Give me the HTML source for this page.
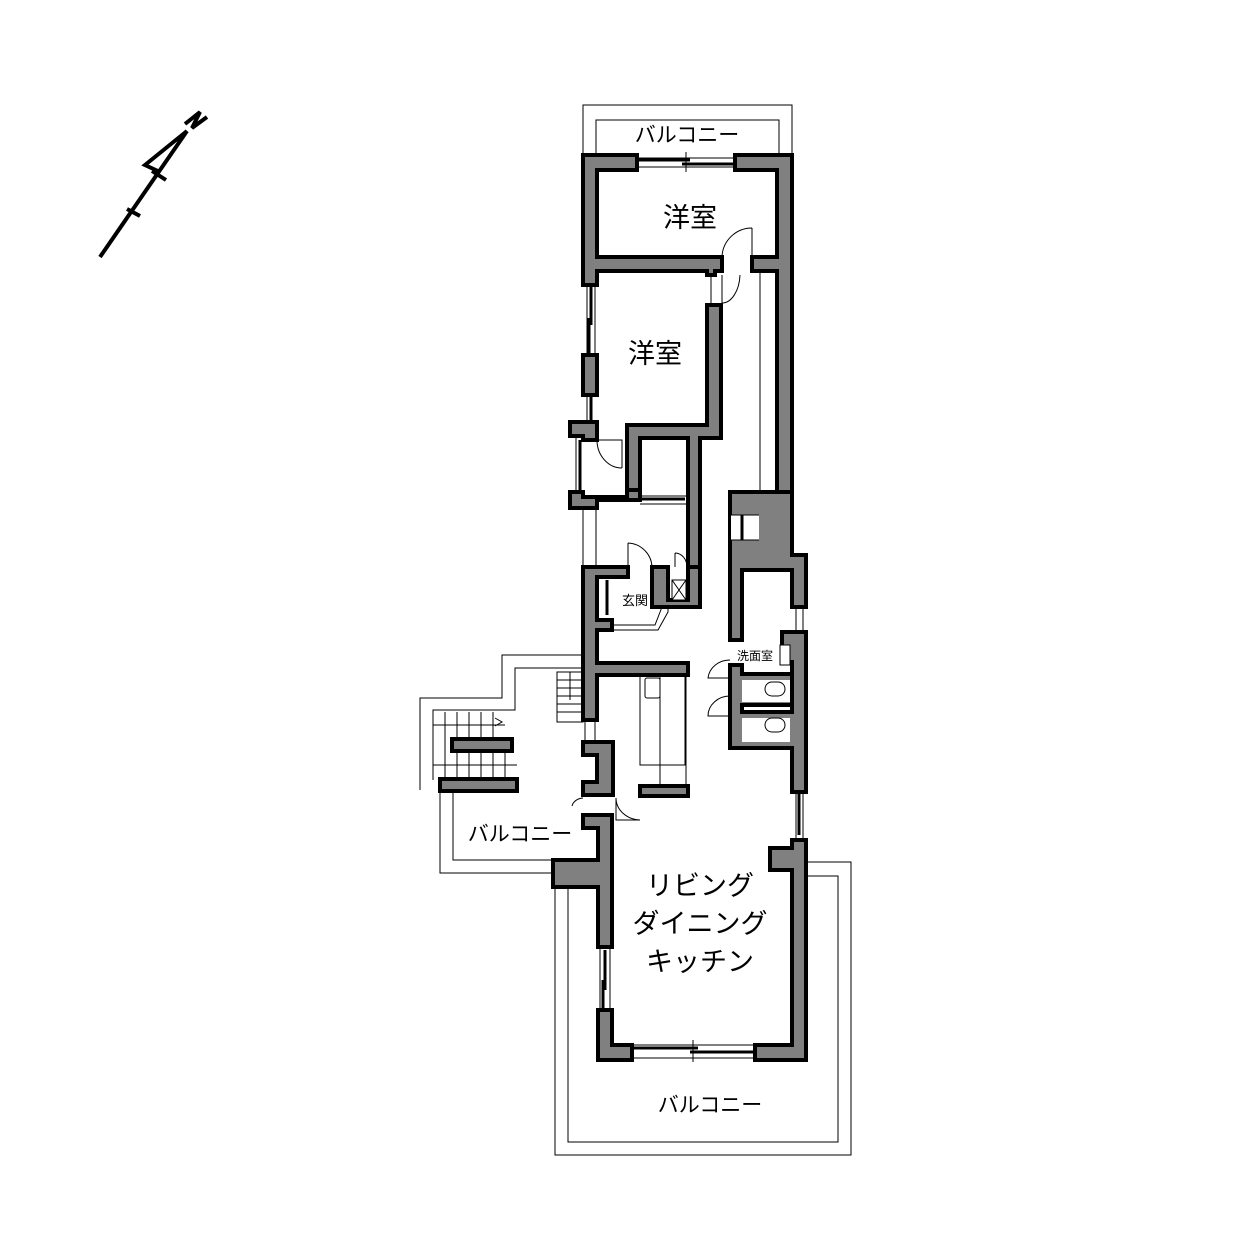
<!DOCTYPE html>
<html><head><meta charset="utf-8"><style>
html,body{margin:0;padding:0;background:#fff;width:1252px;height:1252px;overflow:hidden}
svg{display:block}
.w{fill:#808080;stroke:#000;stroke-width:4;stroke-linejoin:miter}
.t{fill:none;stroke:#000;stroke-width:1}
.b{fill:none;stroke:#000;stroke-width:3}
text{font-family:"Liberation Sans","Noto Sans CJK JP",sans-serif;fill:#000}
</style></head><body>
<svg width="1252" height="1252" viewBox="0 0 1252 1252">
<!-- compass -->
<g stroke="#000" stroke-width="4" fill="none" stroke-linecap="butt">
<line x1="100" y1="257" x2="187" y2="131"/>
<polyline points="187,131 145,165 160,172"/>
<line x1="152" y1="171" x2="166" y2="180"/>
<line x1="127" y1="209" x2="140" y2="216"/>
<polyline points="185,124 200,112 192,128 207,117"/>
</g>

<!-- top balcony -->
<polyline class="t" points="583,155 583,105 792,105 792,155"/>
<polyline class="t" points="596,155 596,120 779,120 779,155"/>
<text x="687" y="142" font-size="21" text-anchor="middle">バルコニー</text>
<!-- top window -->
<line class="t" x1="637" y1="158" x2="735" y2="158"/>
<line class="t" x1="637" y1="167" x2="735" y2="167"/>
<line class="b" x1="637" y1="160" x2="690" y2="160"/>
<line class="b" x1="682" y1="164" x2="735" y2="164"/>
<line class="t" x1="686" y1="152" x2="686" y2="172"/>

<!-- top room walls -->
<polygon class="w" points="583,155 637,155 637,170 597,170 597,257 722,257 722,271 715,271 715,275 707,275 707,271 597,271 597,285 583,285"/>
<polygon class="w" points="735,155 792,155 792,492 777,492 777,271 752,271 752,257 777,257 777,170 735,170"/>
<text x="690" y="227" font-size="27" text-anchor="middle">洋室</text>
<!-- doors -->
<path class="t" d="M752,228 L752,257 M752,228 A30,30 0 0 0 722,257"/>
<path class="t" d="M722,275 L722,305 M740,275 A18,30 0 0 1 722,303"/>
<line class="t" x1="711" y1="275" x2="711" y2="305"/>
<line class="t" x1="760" y1="271" x2="760" y2="492"/>

<!-- second room -->
<polygon class="w" points="707,305 721,305 721,438 700,438 700,600 688,600 688,438 640,438 640,497 627,497 627,425 707,425"/>
<text x="655" y="363" font-size="27" text-anchor="middle">洋室</text>
<line class="t" x1="587" y1="285" x2="587" y2="355"/>
<line class="t" x1="595" y1="285" x2="595" y2="355"/>
<line class="b" x1="591" y1="285" x2="591" y2="325"/>
<line class="b" x1="589" y1="318" x2="589" y2="355"/>
<rect class="w" x="583" y="355" width="14" height="40"/>
<line class="t" x1="587" y1="395" x2="587" y2="420"/>
<line class="b" x1="591" y1="395" x2="591" y2="420"/>
<polygon class="w" points="570,422 597,422 597,440 583,440 583,436 570,436"/>
<polygon class="w" points="570,492 583,492 583,497 627,497 627,490 640,490 640,500 597,500 597,508 570,508"/>
<line class="t" x1="576" y1="436" x2="576" y2="492"/>
<line class="b" x1="580" y1="440" x2="580" y2="490"/>
<path class="t" d="M597,440 L622,440 L622,468 M597,440 A25,28 0 0 0 622,468"/>
<line class="t" x1="640" y1="496" x2="688" y2="496"/>
<line class="b" x1="640" y1="499" x2="685" y2="499"/>
<line class="t" x1="640" y1="504" x2="688" y2="504"/>
<line class="t" x1="583" y1="508" x2="583" y2="567"/>
<line class="t" x1="596" y1="508" x2="596" y2="567"/>

<!-- entrance -->
<polygon class="w" points="583,567 628,567 628,577 597,577 597,620 612,620 612,630 597,630 597,663 688,663 688,675 597,675 597,720 583,720"/>
<polygon class="w" points="652,567 668,567 668,600 688,600 688,567 700,567 700,607 652,607 652,567"/>
<rect x="672" y="580" width="14" height="20" fill="#fff" stroke="#000" stroke-width="1"/>
<path class="t" d="M672,580 L686,600 M686,580 L672,600"/>
<path class="t" d="M628,543 L628,567 M628,543 A25,25 0 0 1 652,567"/>
<path class="t" d="M675,553 L675,567 M675,553 A12,14 0 0 1 687,567"/>
<polyline class="t" points="612,630 658,630 668,612 668,607"/>
<polyline class="t" points="612,625 655,625 662,607"/>
<text x="635" y="605" font-size="13" text-anchor="middle">玄関</text>
<line class="b" x1="607" y1="580" x2="607" y2="615"/>

<!-- right service column -->
<polygon class="w" points="730,492 792,492 792,555 806,555 806,607 792,607 792,570 742,570 742,640 730,640"/>
<rect x="731" y="515" width="28" height="25" fill="#fff"/>
<line class="t" x1="731" y1="515" x2="759" y2="515"/><line class="t" x1="731" y1="540" x2="759" y2="540"/>
<line class="b" x1="742" y1="515" x2="742" y2="540"/>
<polygon class="w" points="782,632 806,632 806,792 792,792 792,748 730,748 730,665 742,665 742,674 792,674 792,705 742,705 742,712 792,712 792,662 782,662"/>
<rect x="742" y="680" width="48" height="22" fill="#fff"/>
<rect x="742" y="718" width="48" height="24" fill="#fff"/>
<rect x="780" y="645" width="10" height="20" fill="#fff" stroke="#000" stroke-width="1"/>
<text x="755" y="660" font-size="12" text-anchor="middle">洗面室</text>
<rect x="765" y="682" width="20" height="14" rx="7" class="t"/>
<rect x="765" y="718" width="20" height="14" rx="7" class="t"/>
<path class="t" d="M730,678 L708,678 A22,20 0 0 1 730,660"/>
<path class="t" d="M730,716 L708,716 A22,20 0 0 1 730,696"/>
<line class="t" x1="796" y1="607" x2="796" y2="632"/><line class="t" x1="803" y1="607" x2="803" y2="632"/>
<line class="t" x1="796" y1="792" x2="796" y2="840"/><line class="t" x1="803" y1="792" x2="803" y2="840"/>
<line class="b" x1="799" y1="792" x2="799" y2="835"/>

<!-- bath area -->
<rect class="t" x="640" y="675" width="45" height="90"/>
<rect class="t" x="645" y="678" width="15" height="20" rx="2"/>
<line class="t" x1="660" y1="675" x2="660" y2="787"/>
<line class="t" x1="686" y1="675" x2="686" y2="787"/>
<polygon class="w" points="583,742 613,742 613,795 583,795 583,782 597,782 597,755 583,755"/>
<rect class="w" x="640" y="786" width="48" height="10"/>
<path class="t" d="M616,798 L616,820 L640,820 M616,798 A25,22 0 0 0 640,820"/>
<path class="t" d="M572,806 A12,10 0 0 1 583,798"/>
<line class="t" x1="585" y1="720" x2="585" y2="742"/><line class="t" x1="595" y1="720" x2="595" y2="742"/>

<!-- stairs and left balcony -->
<polyline class="t" points="583,655 502,655 502,698 420,698 420,790"/>
<polyline class="t" points="583,668 515,668 515,710 433,710 433,780"/>
<rect class="t" x="557" y="672" width="26" height="50"/>
<g class="t">
<line x1="557" y1="680" x2="583" y2="680"/><line x1="557" y1="688" x2="583" y2="688"/><line x1="557" y1="696" x2="583" y2="696"/><line x1="557" y1="704" x2="583" y2="704"/><line x1="557" y1="712" x2="583" y2="712"/>
<line x1="570" y1="672" x2="570" y2="700"/>
<line x1="445" y1="712" x2="445" y2="778"/><line x1="457" y1="712" x2="457" y2="738"/><line x1="469" y1="712" x2="469" y2="738"/><line x1="481" y1="712" x2="481" y2="738"/><line x1="493" y1="712" x2="493" y2="738"/>
<line x1="457" y1="752" x2="457" y2="778"/><line x1="469" y1="752" x2="469" y2="778"/><line x1="481" y1="752" x2="481" y2="778"/><line x1="493" y1="752" x2="493" y2="778"/><line x1="505" y1="752" x2="505" y2="778"/>
<line x1="433" y1="725" x2="505" y2="725"/><line x1="433" y1="765" x2="517" y2="765"/>
<polyline points="495,718 502,722 495,726"/>
</g>
<rect class="w" x="452" y="739" width="60" height="12"/>
<rect class="w" x="440" y="779" width="77" height="12"/>
<polyline class="t" points="440,791 440,873 553,873"/>
<polyline class="t" points="453,791 453,860 553,860"/>
<text x="520" y="841" font-size="21" text-anchor="middle">バルコニー</text>

<!-- LDK -->
<polygon class="w" points="583,815 612,815 612,947 598,947 598,887 553,887 553,860 598,860 598,828 583,828"/>
<polygon class="w" points="598,1010 612,1010 612,1045 632,1045 632,1060 598,1060"/>
<polygon class="w" points="792,840 806,840 806,1060 755,1060 755,1045 792,1045 792,870 770,870 770,848 792,848"/>
<line class="t" x1="600" y1="947" x2="600" y2="1010"/><line class="t" x1="610" y1="947" x2="610" y2="1010"/>
<line class="b" x1="605" y1="950" x2="605" y2="990"/><line class="b" x1="603" y1="980" x2="603" y2="1010"/>
<line class="t" x1="632" y1="1045" x2="755" y2="1045"/><line class="t" x1="632" y1="1058" x2="755" y2="1058"/>
<line class="b" x1="632" y1="1048" x2="698" y2="1048"/><line class="b" x1="690" y1="1052" x2="755" y2="1052"/>
<line class="t" x1="693" y1="1040" x2="693" y2="1062"/>
<text x="700" y="895" font-size="27" text-anchor="middle">リビング</text>
<text x="700" y="933" font-size="27" text-anchor="middle">ダイニング</text>
<text x="700" y="971" font-size="27" text-anchor="middle">キッチン</text>

<!-- bottom balcony -->
<polyline class="t" points="555,887 555,1155 851,1155 851,862 806,862"/>
<polyline class="t" points="568,887 568,1142 838,1142 838,876 806,876"/>
<text x="710" y="1112" font-size="21" text-anchor="middle">バルコニー</text>
</svg>
</body></html>
